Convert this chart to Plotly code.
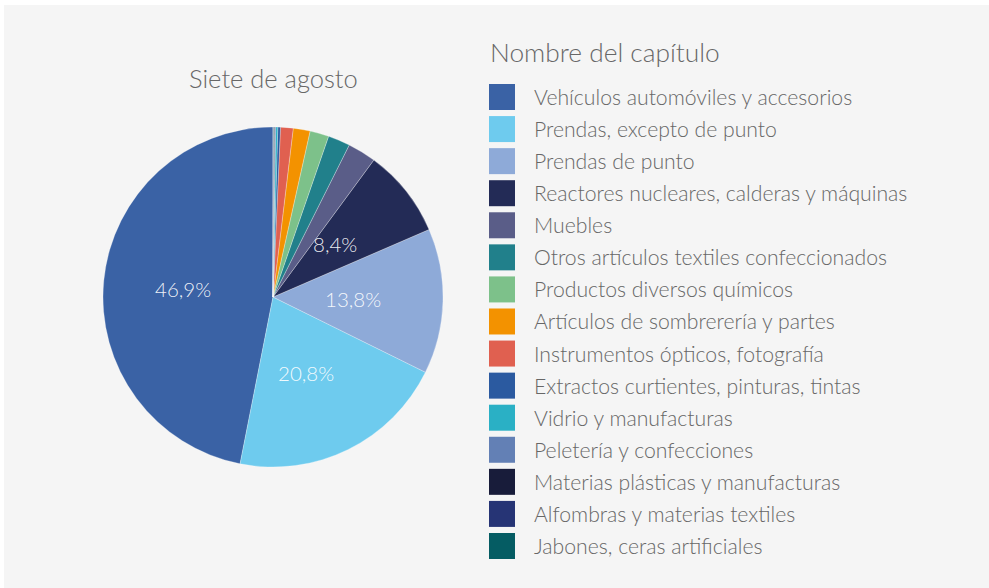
import math
import plotly.graph_objects as go

W, H = 989, 588

chart_title = "Siete de agosto"
legend_title = "Nombre del capítulo"

chapters = [
    "Vehículos automóviles y accesorios",
    "Prendas, excepto de punto",
    "Prendas de punto",
    "Reactores nucleares, calderas y máquinas",
    "Muebles",
    "Otros artículos textiles confeccionados",
    "Productos diversos químicos",
    "Artículos de sombrerería y partes",
    "Instrumentos ópticos, fotografía",
    "Extractos curtientes, pinturas, tintas",
    "Vidrio y manufacturas",
    "Peletería y confecciones",
    "Materias plásticas y manufacturas",
    "Alfombras y materias textiles",
    "Jabones, ceras artificiales",
]

shares = [46.9, 20.8, 13.8, 8.4, 2.7, 2.1, 1.8, 1.6, 1.2, 0.25, 0.2, 0.1, 0.07, 0.05, 0.03]

colors = [
    "#3a62a5", "#6ecbee", "#8eaad8", "#232b56", "#5a5d88",
    "#21808b", "#7dc18a", "#f39200", "#e06050", "#2b5aa0",
    "#2ab0c5", "#6380b5", "#181c3a", "#263475", "#055c63",
]

# only the large slices carry a percentage label
label_min = 5.0

FONT = "Lato, 'Open Sans', sans-serif"
TEXT_GREY = "#676767"

# pie placement in pixels
cx, cy, r = 273, 297, 170
label_r = 0.5 * r
label_dx = -5


def px_x(x):
    return x / W


def px_y(y):
    return 1 - y / H


total = sum(shares)

fig = go.Figure()
fig.add_trace(go.Pie(
    labels=chapters,
    values=shares,
    sort=False,
    direction="counterclockwise",
    # first slice starts at 12 o'clock and runs counterclockwise
    rotation=-360 * shares[0] / total,
    marker=dict(colors=colors, line=dict(color="rgba(255,255,255,0.45)", width=0.6)),
    textinfo="none",
    hoverinfo="label+percent",
    showlegend=False,
    domain=dict(x=[px_x(cx - r), px_x(cx + r)], y=[px_y(cy + r), px_y(cy - r)]),
))

shapes = [
    # light grey panel behind the chart
    dict(type="rect", xref="paper", yref="paper", x0=px_x(4), x1=1.0, y0=0, y1=px_y(5),
         fillcolor="#f5f5f5", line=dict(width=0), layer="below"),
]
annotations = [
    dict(text=chart_title, x=px_x(cx), y=px_y(78), xref="paper", yref="paper",
         xanchor="center", yanchor="middle", showarrow=False,
         font=dict(family=FONT, size=25.5, color=TEXT_GREY, weight=300)),
    dict(text=legend_title, x=px_x(488), y=px_y(52), xref="paper", yref="paper",
         xanchor="left", yanchor="middle", showarrow=False,
         font=dict(family=FONT, size=26.3, color=TEXT_GREY, weight=300)),
]

# percentage labels at mid-radius of each large slice (counterclockwise from 12 o'clock)
start = 0.0
for v in shares:
    mid = start + v / total * 360 / 2
    start += v / total * 360
    if v < label_min:
        continue
    a = math.radians(mid)
    lx = cx + label_dx - label_r * math.sin(a)
    ly = cy - label_r * math.cos(a)
    annotations.append(dict(
        text=f"{v / total * 100:.1f}%".replace(".", ","),
        x=px_x(lx), y=px_y(ly), xref="paper", yref="paper",
        xanchor="center", yanchor="middle", showarrow=False,
        font=dict(family=FONT, size=20.5, color="rgba(255,255,255,0.92)", weight=300)))

# legend: coloured squares with chapter names
row0, step, sw = 97, 32.07, 26
for i, (name, col) in enumerate(zip(chapters, colors)):
    yc = row0 + i * step
    shapes.append(dict(type="rect", xref="paper", yref="paper",
                       x0=px_x(489), x1=px_x(489 + sw),
                       y0=px_y(yc + sw / 2), y1=px_y(yc - sw / 2),
                       fillcolor=col, line=dict(width=0)))
    annotations.append(dict(text=name, x=px_x(532), y=px_y(yc), xref="paper", yref="paper",
                            xanchor="left", yanchor="middle", showarrow=False,
                            font=dict(family=FONT, size=21.2, color=TEXT_GREY, weight=300)))

fig.update_layout(
    width=W, height=H,
    margin=dict(l=0, r=0, t=0, b=0),
    paper_bgcolor="#ffffff",
    plot_bgcolor="#f5f5f5",
    separators=",.",
    shapes=shapes,
    annotations=annotations,
    font=dict(family=FONT),
)

fig.write_html("out.html")
